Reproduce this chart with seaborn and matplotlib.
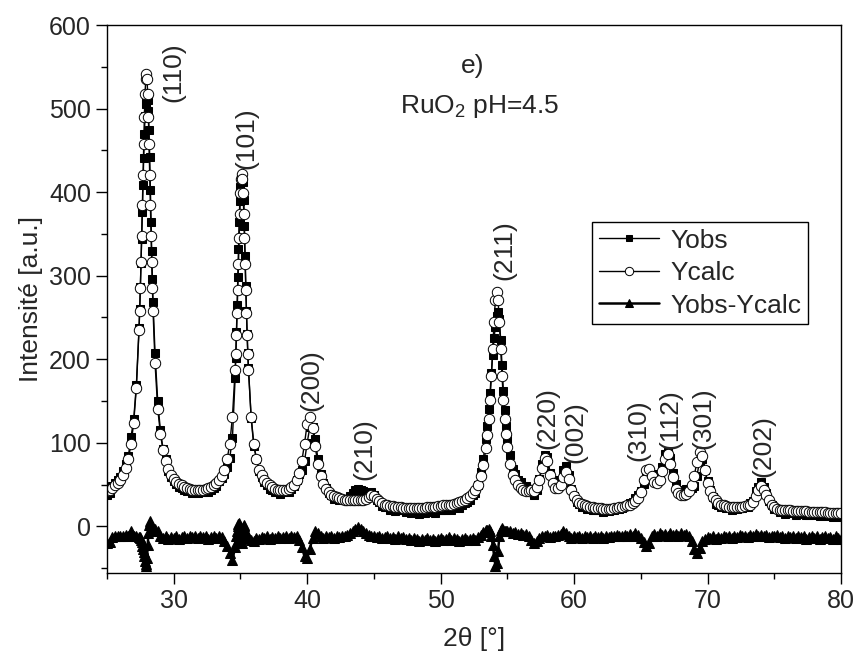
import numpy as np
import matplotlib
matplotlib.use("Agg")
import matplotlib.pyplot as plt
import seaborn as sns
from matplotlib.ticker import MultipleLocator

# 2-theta sampling grid (denser across the strongest reflections)
two_theta = np.round(np.concatenate([
    np.linspace(25.0, 27.4, 13), np.linspace(27.45, 28.45, 21), np.linspace(28.6, 34.4, 30),
    np.linspace(34.6, 35.6, 21), np.linspace(35.8, 53.4, 89), np.linspace(53.5, 54.9, 15),
    np.linspace(55.0, 80.0, 126)]), 2)

y_obs = [
    37, 40, 48, 52, 56, 59, 66, 75, 84, 107, 128, 169, 237,
    260, 286, 315, 344, 376, 409, 441, 469, 491, 505, 508, 512, 510, 497, 474, 442, 403, 364, 329, 296, 268,
    207, 150, 115, 92, 81, 66, 59, 54, 51, 47, 46, 44, 42, 43, 40, 41, 40, 42, 41, 42, 41, 43, 46, 48, 54, 58, 63, 71, 82, 106,
    177, 201, 232, 265, 298, 332, 364, 389, 406, 416, 417, 419, 412, 391, 360, 324, 288, 258, 230, 208, 190,
    130, 96, 81, 66, 59, 53, 50, 45, 44, 41, 42, 39, 41, 42, 41, 45, 48, 56, 63, 68, 78,
    100, 119, 119, 105, 81, 63, 52, 46, 40, 38, 33, 34, 32, 33, 31, 32, 36, 40, 43, 45,
    43, 42, 40, 40, 41, 37, 31, 29, 24, 23, 23, 20, 21, 18, 21, 19, 19, 17, 18, 16,
    18, 17, 15, 17, 16, 19, 17, 18, 16, 19, 20, 19, 20, 23, 20, 23, 23, 22, 25, 28,
    29, 32, 37, 40, 50, 65, 81, 105,
    120, 140, 160, 183, 205, 225, 239, 252, 256, 248, 223, 193, 162, 139, 120,
    104, 85, 69, 63, 56, 53, 48, 48, 45, 42, 37, 44, 57, 74, 85, 83, 64, 56, 49, 51,
    56, 68, 72, 61, 45, 36, 29, 27, 23, 23, 21, 22, 19, 20, 19, 21, 17, 19, 18, 20,
    20, 22, 21, 22, 24, 24, 28, 29, 34, 37, 42, 51, 59, 64, 63, 59, 56, 63, 71, 87,
    89, 82, 64, 51, 44, 44, 42, 45, 45, 46, 48, 60, 78, 81, 67, 54, 43, 35, 27, 26,
    23, 24, 22, 23, 20, 22, 21, 24, 22, 24, 23, 28, 30, 42, 47, 53, 47, 40, 30, 25,
    21, 21, 17, 19, 15, 17, 16, 17, 14, 16, 15, 17, 13, 14, 15, 13, 15, 12, 14, 15,
    12, 13, 11, 14, 12, 11]

y_calc = [
    42, 44, 46, 49, 52, 56, 62, 70, 81, 98, 124, 166, 235,
    258, 285, 316, 348, 384, 421, 457, 490, 517, 535, 541, 535, 517, 490, 457, 421, 384, 348, 316, 285, 258,
    195, 141, 111, 91, 78, 69, 62, 57, 53, 51, 49, 47, 46, 45, 44, 44, 44, 44, 44, 45, 46, 47, 49, 52, 55, 60, 68, 80, 99, 131,
    187, 206, 229, 255, 283, 314, 345, 374, 399, 416, 422, 416, 399, 374, 345, 314, 283, 255, 229, 206, 187,
    131, 99, 80, 68, 61, 56, 52, 49, 47, 45, 44, 43, 44, 44, 45, 47, 50, 55, 64, 78, 99,
    123, 131, 118, 96, 74, 60, 51, 45, 41, 38, 36, 35, 34, 33, 32, 31, 31, 31, 31, 31,
    31, 32, 33, 35, 37, 36, 33, 30, 28, 26, 25, 24, 24, 23, 23, 23, 22, 22, 22, 22,
    22, 22, 22, 22, 22, 23, 23, 23, 23, 24, 24, 25, 25, 26, 26, 27, 28, 29, 30, 32,
    34, 36, 40, 44, 50, 60, 73, 94,
    109, 128, 151, 180, 212, 245, 271, 281, 271, 245, 212, 180, 151, 129, 111,
    95, 75, 62, 55, 50, 46, 43, 42, 42, 43, 42, 47, 56, 70, 82, 78, 62, 52, 46, 46,
    50, 59, 65, 57, 44, 36, 31, 28, 27, 25, 24, 23, 23, 22, 22, 22, 21, 21, 21, 21,
    22, 22, 23, 23, 24, 25, 26, 28, 30, 34, 41, 55, 68, 69, 60, 53, 52, 56, 66, 81,
    86, 75, 59, 45, 40, 37, 37, 39, 42, 49, 60, 77, 89, 84, 67, 52, 42, 35, 31, 28,
    26, 25, 24, 23, 23, 23, 23, 23, 23, 24, 25, 26, 29, 36, 43, 48, 44, 37, 31, 25,
    23, 21, 20, 20, 19, 19, 19, 18, 18, 18, 18, 18, 18, 17, 17, 17, 17, 17, 17, 17,
    16, 16, 16, 16, 16, 16]

y_diff = [
    -20, -19, -13, -12, -11, -12, -11, -10, -12, -6, -11, -12, -13,
    -13, -14, -16, -19, -23, -27, -31, -36, -41, -45, -48, -38, -22, -8, 2, 6, 4, 1, -2, -4, -5,
    -3, -6, -11, -14, -12, -15, -13, -14, -12, -15, -13, -12, -14, -11, -13, -12, -14, -11, -13, -12, -15, -13, -12, -14, -11, -13, -18, -24, -32, -40,
    -25, -20, -12, -5, 0, 3, 4, 0, -8, -15, -20, -12, -2, 2, 0, -5, -10, -12, -14, -13, -12,
    -16, -18, -14, -15, -13, -14, -12, -15, -13, -14, -12, -14, -13, -11, -14, -12, -13, -11, -16, -25, -36,
    -38, -27, -14, -6, -8, -12, -14, -12, -13, -11, -14, -12, -13, -11, -12, -10, -8, -6, -3, -1,
    -3, -5, -8, -10, -11, -12, -13, -11, -14, -13, -12, -14, -13, -15, -12, -14, -13, -15, -14, -16,
    -14, -15, -17, -15, -16, -14, -16, -15, -17, -15, -14, -16, -15, -13, -16, -14, -15, -17, -15, -14,
    -16, -15, -14, -16, -13, -10, -7, -4,
    -4, -3, -6, -12, -22, -35, -47, -44, -30, -12, -4, -2, -4, -5, -6,
    -6, -5, -8, -7, -9, -8, -10, -9, -12, -16, -20, -18, -14, -11, -12, -10, -13, -11, -12, -10,
    -9, -6, -8, -11, -14, -12, -13, -11, -14, -12, -13, -11, -14, -12, -13, -11, -14, -12, -13, -11,
    -12, -10, -12, -11, -10, -12, -9, -11, -8, -10, -14, -19, -24, -20, -12, -9, -11, -8, -10, -9,
    -12, -8, -10, -9, -11, -8, -10, -9, -12, -18, -27, -32, -26, -18, -15, -13, -14, -12, -15, -13,
    -14, -12, -13, -11, -14, -12, -13, -10, -12, -11, -13, -10, -12, -9, -11, -10, -12, -10, -13, -11,
    -12, -10, -13, -11, -14, -12, -13, -11, -14, -12, -13, -11, -15, -13, -12, -14, -12, -15, -13, -12,
    -14, -13, -15, -12, -14, -15]

peak_labels = ['(110)', '(101)', '(200)', '(210)', '(211)', '(220)', '(002)', '(310)', '(112)', '(301)', '(202)']
label_x = [30.0, 35.45, 40.3, 44.3, 54.75, 58.0, 60.1, 64.8, 67.2, 69.65, 74.15]
label_y = [544, 464, 175, 92, 330, 129, 113, 115, 128, 130, 96]

sns.set_style("ticks")
plt.rcParams['font.family'] = ['Liberation Sans', 'DejaVu Sans']
plt.rcParams['mathtext.fontset'] = 'custom'
plt.rcParams['mathtext.rm'] = 'Liberation Sans'
plt.rcParams['mathtext.it'] = 'Liberation Sans:italic'

fig, ax = plt.subplots(figsize=(8.56, 6.58), dpi=100)
fig.subplots_adjust(left=0.125, right=0.9825, bottom=0.129, top=0.962)

sns.lineplot(x=two_theta, y=y_obs, ax=ax, sort=False, color='black', linewidth=1.0,
             marker='s', markersize=6, markerfacecolor='black', markeredgecolor='black',
             label='Yobs')
sns.lineplot(x=two_theta, y=y_calc, ax=ax, sort=False, color='black', linewidth=1.0,
             marker='o', markersize=7.5, markerfacecolor='white', markeredgecolor='black',
             markeredgewidth=0.7, label='Ycalc')
sns.lineplot(x=two_theta, y=y_diff, ax=ax, sort=False, color='black', linewidth=1.8,
             marker='^', markersize=6.5, markerfacecolor='black', markeredgecolor='black',
             label='Yobs-Ycalc')

ax.set_xlim(25, 80)
ax.set_ylim(-56, 600)
ax.xaxis.set_major_locator(MultipleLocator(10))
ax.xaxis.set_minor_locator(MultipleLocator(5))
ax.yaxis.set_major_locator(MultipleLocator(100))
ax.yaxis.set_minor_locator(MultipleLocator(50))
ax.tick_params(which='major', direction='out', length=8, width=1, labelsize=18, color='black')
ax.tick_params(which='minor', direction='out', length=4, width=1, color='black')
for s in ax.spines.values():
    s.set_visible(True)
    s.set_color('black')
    s.set_linewidth(1.0)

ax.set_xlabel('2θ [°]', fontsize=19, labelpad=10)
ax.set_ylabel('Intensité [a.u.]', fontsize=19)

for lab, lx, ly in zip(peak_labels, label_x, label_y):
    ax.text(lx, ly, lab, rotation=90, ha='center', va='center', fontsize=19)

ax.text(52.4, 551, 'e)', ha='center', va='center', fontsize=19)
ax.text(52.9, 503, 'RuO$_2$ pH=4.5', ha='center', va='center', fontsize=19)

leg = ax.legend(loc='upper left', bbox_to_anchor=(0.661, 0.6405), frameon=True, fancybox=False,
                edgecolor='black', framealpha=1, fontsize=19, handlelength=2.3,
                handletextpad=0.4, borderpad=0.25, labelspacing=0.32, borderaxespad=0,
                markerscale=0.8)
leg.get_frame().set_linewidth(1.0)

fig.savefig('out.png', dpi=100)
